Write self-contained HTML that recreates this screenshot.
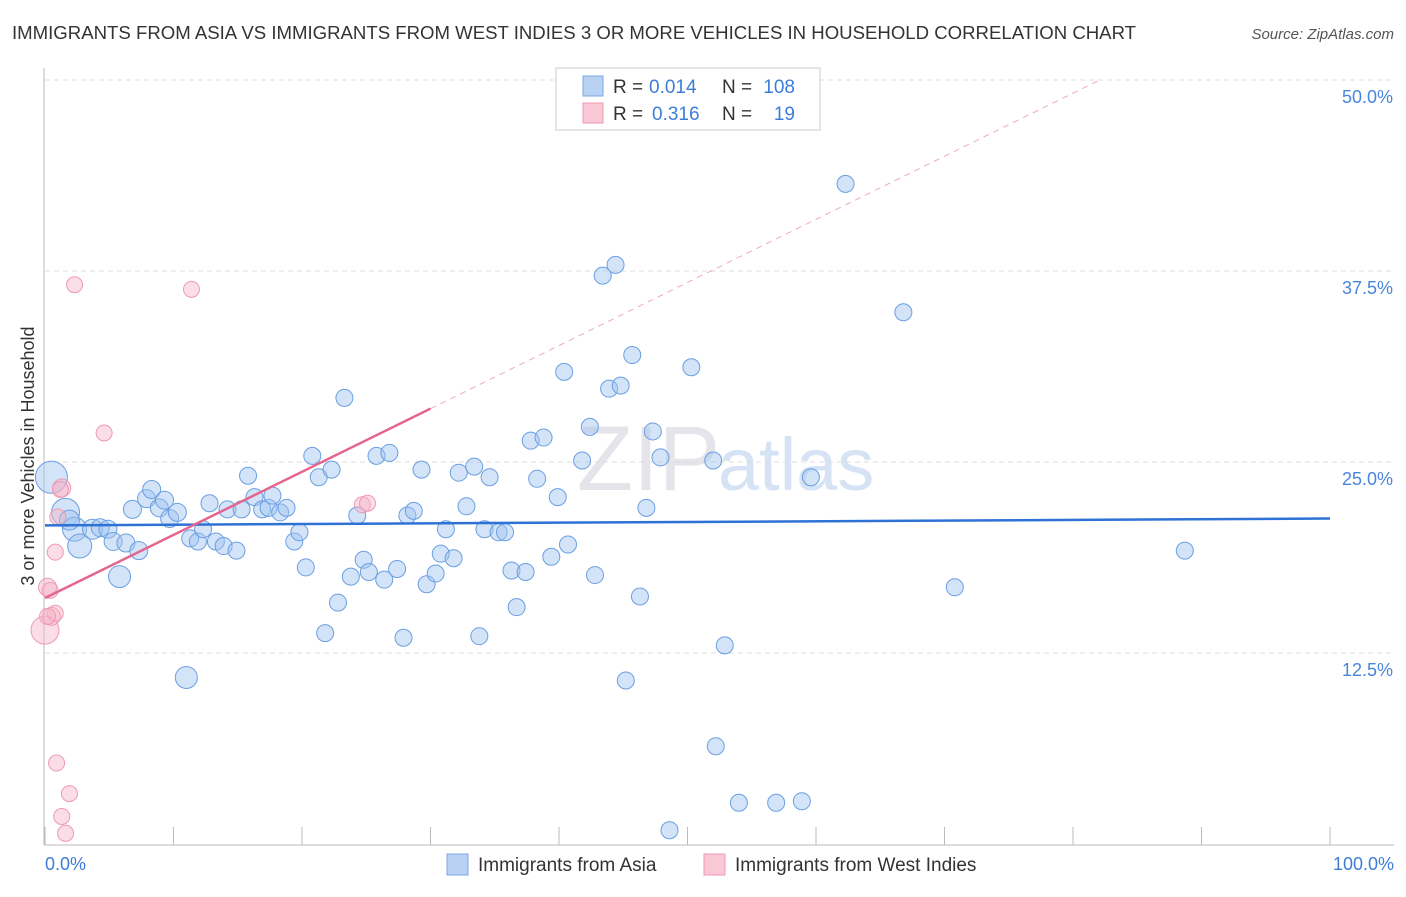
<!DOCTYPE html>
<html><head><meta charset="utf-8"><style>
body{margin:0;background:#fff;font-family:"Liberation Sans",sans-serif;}
svg text{font-family:"Liberation Sans",sans-serif;}
</style></head><body>
<svg id="chart" width="1406" height="892">
<text x="12" y="39" font-size="18.6" fill="#333">IMMIGRANTS FROM ASIA VS IMMIGRANTS FROM WEST INDIES 3 OR MORE VEHICLES IN HOUSEHOLD CORRELATION CHART</text>
<text x="1394" y="39" font-size="15" fill="#555" font-style="italic" text-anchor="end">Source: ZipAtlas.com</text>
<text x="720" y="490" font-size="92" fill="#e4e4ea" text-anchor="end" font-family="Liberation Serif">ZIP</text>
<text x="718" y="490" font-size="74" fill="#d6e3f4">atlas</text>
<g id="grid"></g><g id="axes"></g><g id="pts"></g><g id="lines"></g>
<text transform="translate(34,456) rotate(-90)" font-size="18" fill="#333" text-anchor="middle">3 or more Vehicles in Household</text>
<text x="45" y="870" font-size="18" fill="#3d7dd8">0.0%</text>
<text x="1394" y="870" font-size="18" fill="#3d7dd8" text-anchor="end">100.0%</text>
<g>
<rect x="556" y="68" width="264" height="62" fill="#fff" stroke="#ccc"/>
<rect x="583" y="76" width="20" height="20" fill="#b9d2f3" stroke="#7aa7e6"/>
<rect x="583" y="103" width="20" height="20" fill="#f8c8d6" stroke="#ef9ab3"/>
<text x="613" y="93" font-size="19" fill="#333">R =</text>
<text x="649" y="93" font-size="19" fill="#3d7dd8">0.014</text>
<text x="722" y="93" font-size="19" fill="#333">N =</text>
<text x="795" y="93" font-size="19" fill="#3d7dd8" text-anchor="end">108</text>
<text x="613" y="120" font-size="19" fill="#333">R =</text>
<text x="652" y="120" font-size="19" fill="#3d7dd8">0.316</text>
<text x="722" y="120" font-size="19" fill="#333">N =</text>
<text x="795" y="120" font-size="19" fill="#3d7dd8" text-anchor="end">19</text>
</g>
<g>
<rect x="447" y="854" width="21" height="21" fill="#b9d2f3" stroke="#7aa7e6"/>
<text x="478" y="871" font-size="19" fill="#333">Immigrants from Asia</text>
<rect x="704" y="854" width="21" height="21" fill="#f8c8d6" stroke="#ef9ab3"/>
<text x="735" y="871" font-size="19" fill="#333">Immigrants from West Indies</text>
</g>
</svg>
<script>
const asiaX=[0.5,1.6,2.3,2.7,1.9,3.7,4.3,4.9,5.3,5.8,6.3,6.8,7.3,7.9,8.3,8.9,9.3,9.7,10.3,11.0,11.3,11.9,12.3,12.8,13.3,13.9,14.2,14.9,15.3,15.8,16.3,16.9,17.4,17.7,18.3,18.8,19.4,19.8,20.3,20.8,21.3,21.8,22.3,22.8,23.3,23.8,24.3,24.8,25.2,25.8,26.4,26.8,27.4,27.9,28.2,28.7,29.3,29.7,30.4,30.8,31.2,31.8,32.2,32.8,33.4,33.8,34.2,34.6,35.3,35.8,36.3,36.7,37.4,37.8,38.3,38.8,39.4,39.9,40.4,40.7,41.8,42.4,42.8,43.4,43.9,44.4,44.8,45.2,45.7,46.3,46.8,47.3,47.9,48.6,50.3,52.0,52.2,52.9,54.0,56.9,58.9,59.6,62.3,66.8,70.8,88.7];
const asiaY=[24.0,21.7,20.6,19.5,21.2,20.6,20.7,20.6,19.8,17.5,19.7,21.9,19.2,22.6,23.2,22.0,22.5,21.3,21.7,10.9,20.0,19.8,20.6,22.3,19.8,19.5,21.9,19.2,21.9,24.1,22.7,21.9,22.0,22.8,21.7,22.0,19.8,20.4,18.1,25.4,24.0,13.8,24.5,15.8,29.2,17.5,21.5,18.6,17.8,25.4,17.3,25.6,18.0,13.5,21.5,21.8,24.5,17.0,17.7,19.0,20.6,18.7,24.3,22.1,24.7,13.6,20.6,24.0,20.4,20.4,17.9,15.5,17.8,26.4,23.9,26.6,18.8,22.7,30.9,19.6,25.1,27.3,17.6,37.2,29.8,37.9,30.0,10.7,32.0,16.2,22.0,27.0,25.3,0.9,31.2,25.1,6.4,13.0,2.7,2.7,2.8,24.0,43.2,34.8,16.8,19.2];
const asiaR=[16,14,12,12,10,10,9,9,9,11,9,9,9,9,9,9,9,9,9,11];
const wiX=[0,0.2,0.5,0.8,0.8,0.9,1.3,1.0,1.3,1.6,1.9,2.3,4.6,11.4,24.7,25.1,0.2,0.4,1.2];
const wiY=[14.0,16.8,14.9,15.1,19.1,5.3,23.3,21.4,1.8,0.7,3.3,36.6,26.9,36.3,22.2,22.3,14.9,16.6,23.2];
const wiR=[14,9,9,8,8,8,9,8,8,8,8,8,8,8,8,8,8,8,8];
const yTicks=[12.5,25.0,37.5,50.0];
const yTickLabels=["12.5%","25.0%","37.5%","50.0%"];
const xTicks=[0,10,20,30,40,50,60,70,80,90,100];
const asiaTrend=[20.85,21.3];
const wiTrend=[16.1,0.413];
const NS="http://www.w3.org/2000/svg";
const X=v=>45+v*12.85, Y=v=>844-v*15.28;
function mk(t,a,p){const e=document.createElementNS(NS,t);for(const k in a)e.setAttribute(k,a[k]);document.getElementById(p).appendChild(e);return e;}
yTicks.forEach((t,i)=>{
 const l=mk('line',{x1:45,x2:1394,y1:Y(t),y2:Y(t),stroke:'#ddd','stroke-dasharray':'5,4'},'grid');
 
 
 const tx=mk('text',{x:1393,y:Y(t)+23,'font-size':18,fill:'#4a85dc','text-anchor':'end'},'grid');
 tx.textContent=yTickLabels[i];
 
 
});
const ax=mk('line',{x1:44,x2:44,y1:68,y2:845,stroke:'#bbb'},'axes');


const bx=mk('line',{x1:44,x2:1394,y1:845,y2:845,stroke:'#bbb'},'axes');


xTicks.forEach(t=>{
 const l=mk('line',{x1:X(t),x2:X(t),y1:827,y2:845,stroke:'#bbb'},'axes');
 
 
});
asiaX.forEach((v,i)=>{
 const c=mk('circle',{cx:X(v),cy:Y(asiaY[i]),r:asiaR[i]||8.5,fill:'rgba(160,195,240,0.45)',stroke:'#6a9fe2','stroke-width':1},'pts');
 
 
});
wiX.forEach((v,i)=>{
 const c=mk('circle',{cx:X(v),cy:Y(wiY[i]),r:wiR[i],fill:'rgba(245,180,200,0.45)',stroke:'#ee9ab4','stroke-width':1},'pts');
 
 
});
const bl=mk('line',{x1:X(0),y1:Y(asiaTrend[0]),x2:X(100),y2:Y(asiaTrend[1]),stroke:'#2f72d6','stroke-width':2.5},'lines');


const pl=mk('line',{x1:X(0),y1:Y(wiTrend[0]),x2:X(30),y2:Y(wiTrend[0]+30*wiTrend[1]),stroke:'#e4668f','stroke-width':2.5},'lines');


const xe=(50-wiTrend[0])/wiTrend[1];
const pd=mk('line',{x1:X(30),y1:Y(wiTrend[0]+30*wiTrend[1]),x2:X(xe),y2:Y(50),stroke:'#eeaabd','stroke-width':1,'stroke-dasharray':'6,5'},'lines');


</script>
</body></html>
